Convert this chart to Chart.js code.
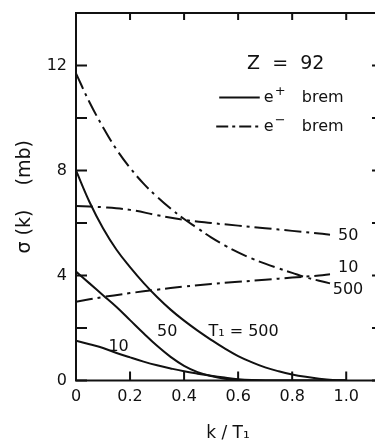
<!DOCTYPE html>
<html>
<head>
<meta charset="utf-8">
<script src="https://cdn.jsdelivr.net/npm/chart.js@4/dist/chart.umd.min.js"></script>
<style>
  html, body { margin: 0; padding: 0; background: #fff; }
  #wrap { width: 375px; height: 442px; overflow: hidden; position: relative; }
  canvas { display: block; }
</style>
</head>
<body>
<div id="wrap"><canvas id="chart" width="390" height="442"></canvas></div>
<script>
// k / T1 values and sigma(k) in mb (Z = 92)
const xPos10 = [0, 0.05, 0.1, 0.15, 0.2, 0.25, 0.3, 0.35, 0.4, 0.45, 0.5, 0.55, 0.6, 0.65, 0.7, 0.8, 0.9, 1.0];
const yPos10 = [1.52, 1.38, 1.24, 1.05, 0.88, 0.72, 0.58, 0.46, 0.35, 0.26, 0.18, 0.11, 0.05, 0.015, 0, 0, 0, 0];

const xPos50 = [0, 0.05, 0.1, 0.15, 0.2, 0.25, 0.3, 0.35, 0.4, 0.45, 0.5, 0.55, 0.6, 0.65, 0.7, 0.8, 0.9, 1.0];
const yPos50 = [4.15, 3.7, 3.25, 2.8, 2.3, 1.8, 1.32, 0.9, 0.56, 0.32, 0.17, 0.07, 0.02, 0.005, 0, 0, 0, 0];

const xPos500 = [0, 0.05, 0.1, 0.15, 0.2, 0.25, 0.3, 0.35, 0.4, 0.45, 0.5, 0.55, 0.6, 0.65, 0.7, 0.75, 0.8, 0.85, 0.9, 0.95, 1.0];
const yPos500 = [8.0, 6.8, 5.8, 4.98, 4.32, 3.72, 3.18, 2.7, 2.28, 1.9, 1.55, 1.22, 0.93, 0.7, 0.5, 0.35, 0.23, 0.14, 0.07, 0.02, 0];

const xEle = [0, 0.05, 0.1, 0.15, 0.2, 0.25, 0.3, 0.35, 0.4, 0.45, 0.5, 0.55, 0.6, 0.65, 0.7, 0.75, 0.8, 0.85, 0.9, 0.94];
const yEle500 = [11.7, 10.6, 9.65, 8.8, 8.1, 7.5, 7.0, 6.55, 6.15, 5.8, 5.45, 5.15, 4.88, 4.65, 4.45, 4.27, 4.1, 3.93, 3.8, 3.7];

const xEleFlat = [0, 0.1, 0.2, 0.3, 0.4, 0.5, 0.6, 0.7, 0.8, 0.9, 0.94];
const yEle50 = [6.65, 6.6, 6.5, 6.3, 6.12, 6.0, 5.9, 5.8, 5.7, 5.6, 5.55];
const yEle10 = [3.0, 3.18, 3.33, 3.46, 3.58, 3.68, 3.76, 3.84, 3.92, 4.0, 4.05];

// text placed on the plot, in data units
const curveLabels = [
    { text: '50', x: 0.97, y: 5.5 },
    { text: '10', x: 0.97, y: 4.28 },
    { text: '500', x: 0.95, y: 3.45 },
    { text: '50', x: 0.3, y: 1.84 },
    { text: '10', x: 0.12, y: 1.27 },
    { text: 'T\u2081 = 500', x: 0.49, y: 1.84 }
];

const dashDot = [17, 5, 3, 5];
const font = '"DejaVu Sans", sans-serif';

function toPoints(xs, ys) {
    return xs.map((x, i) => ({ x: x, y: ys[i] }));
}

function makeSet(label, xs, ys, dashed) {
    return {
        label: label,
        data: toPoints(xs, ys),
        showLine: true,
        borderColor: '#111',
        borderWidth: 2,
        borderDash: dashed ? dashDot : [],
        pointRadius: 0,
        tension: 0.4,
        fill: false
    };
}

// "e" with a raised sign, then "brem"
function keyText(ctx, x, y, sign) {
    ctx.font = '16px ' + font;
    ctx.fillText('e', x, y);
    ctx.font = '13px ' + font;
    ctx.fillText(sign, x + 11, y - 6);
    ctx.font = '16px ' + font;
    ctx.fillText('brem', x + 38, y);
}

const framePlugin = {
    id: 'frame',
    afterDraw(chart) {
        const ctx = chart.ctx;
        const { left, right, top, bottom } = chart.chartArea;
        const xs = chart.scales.x;
        const ys = chart.scales.y;

        ctx.save();
        ctx.strokeStyle = '#111';
        ctx.lineWidth = 2;
        ctx.strokeRect(left, top, right - left, bottom - top);

        // inward tick marks
        ctx.beginPath();
        xs.ticks.forEach(t => {
            const px = xs.getPixelForValue(t.value);
            ctx.moveTo(px, bottom); ctx.lineTo(px, bottom - 9);
            ctx.moveTo(px, top); ctx.lineTo(px, top + 7);
        });
        ys.ticks.forEach(t => {
            const py = ys.getPixelForValue(t.value);
            ctx.moveTo(left, py); ctx.lineTo(left + 11, py);
            ctx.moveTo(right, py); ctx.lineTo(right - 8, py);
        });
        ctx.stroke();

        // curve labels
        ctx.fillStyle = '#111';
        ctx.textBaseline = 'middle';
        ctx.textAlign = 'left';
        ctx.font = '16px ' + font;
        curveLabels.forEach(l => {
            ctx.fillText(l.text, xs.getPixelForValue(l.x), ys.getPixelForValue(l.y));
        });

        // key
        ctx.font = '19px ' + font;
        ctx.fillText('Z  =  92', xs.getPixelForValue(0.633), ys.getPixelForValue(12.05));

        const kx0 = xs.getPixelForValue(0.53);
        const kx1 = xs.getPixelForValue(0.68);
        const ky1 = ys.getPixelForValue(10.78);
        const ky2 = ys.getPixelForValue(9.68);
        ctx.beginPath();
        ctx.moveTo(kx0, ky1); ctx.lineTo(kx1, ky1);
        ctx.stroke();
        ctx.setLineDash([12, 4, 3, 4]);
        ctx.beginPath();
        ctx.moveTo(kx0 - 3, ky2); ctx.lineTo(kx1, ky2);
        ctx.stroke();
        ctx.setLineDash([]);
        keyText(ctx, kx1 + 4, ky1, '+');
        keyText(ctx, kx1 + 4, ky2, '\u2212');
        ctx.restore();
    }
};

const chart = new Chart(document.getElementById('chart').getContext('2d'), {
    type: 'scatter',
    data: {
        datasets: [
            makeSet('e+ T1=10', xPos10, yPos10, false),
            makeSet('e+ T1=50', xPos50, yPos50, false),
            makeSet('e+ T1=500', xPos500, yPos500, false),
            makeSet('e- T1=500', xEle, yEle500, true),
            makeSet('e- T1=50', xEleFlat, yEle50, true),
            makeSet('e- T1=10', xEleFlat, yEle10, true)
        ]
    },
    options: {
        responsive: false,
        animation: false,
        devicePixelRatio: 1,
        layout: { padding: { top: 13, right: 10, left: 0, bottom: 0 } },
        plugins: { legend: { display: false }, tooltip: { enabled: false } },
        scales: {
            x: {
                type: 'linear',
                min: 0,
                max: 1.125,
                afterFit: s => { s.height = 61.5; s.paddingLeft = 0; s.paddingRight = 0; },
                border: { display: false },
                grid: { display: false, drawTicks: false },
                ticks: {
                    stepSize: 0.2,
                    includeBounds: false,
                    maxRotation: 0,
                    padding: 7,
                    color: '#111',
                    font: { family: font, size: 16 },
                    callback: v => v === 0 ? '0' : v.toFixed(1)
                },
                title: {
                    display: true,
                    text: 'k / T\u2081',
                    color: '#111',
                    font: { family: font, size: 17, lineHeight: 1 },
                    padding: { top: 0, bottom: 0 }
                }
            },
            y: {
                type: 'linear',
                min: 0,
                max: 14,
                afterFit: s => { s.width = 76; s.paddingTop = 0; s.paddingBottom = 0; },
                border: { display: false },
                grid: { display: false, drawTicks: false },
                ticks: {
                    stepSize: 2,
                    padding: 9,
                    color: '#111',
                    font: { family: font, size: 16 },
                    callback: v => (v % 4 === 0 && v < 14) ? String(v) : ''
                },
                title: {
                    display: true,
                    text: '\u03C3 (k)    (mb)',
                    color: '#111',
                    font: { family: font, size: 19, lineHeight: 1 },
                    padding: { top: 16, bottom: 0 }
                }
            }
        }
    },
    plugins: [framePlugin]
});
</script>
</body>
</html>
